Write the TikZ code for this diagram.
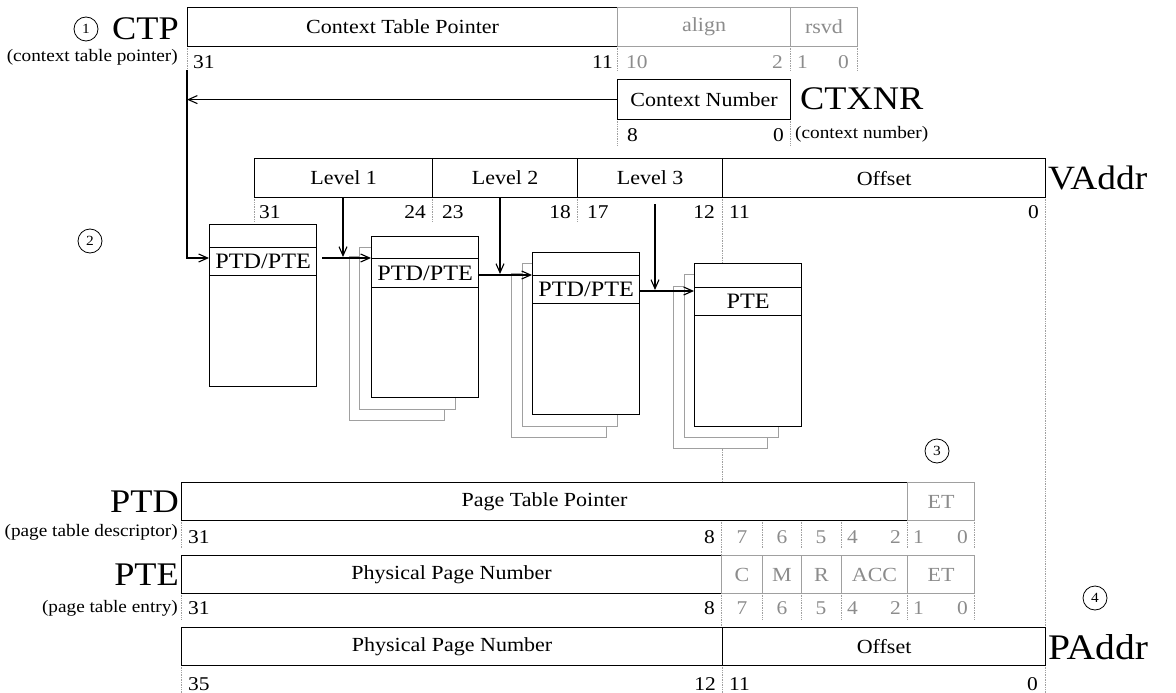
\documentclass[tikz,border=0pt]{standalone}
\usepackage{fontspec}
\setmainfont[FakeStretch=1.1]{Liberation Serif}
\usetikzlibrary{arrows.meta}
\definecolor{lg}{HTML}{A0A0A0}
\definecolor{tg}{HTML}{8C8C8C}
\tikzset{
 fld/.style={draw, line width=1.2pt, fill=white, anchor=north west, inner sep=0, font=\fontsize{20}{24}\selectfont},
 gfld/.style={fld, draw=lg, text=tg, line width=1pt},
 bit/.style={inner sep=0, font=\fontsize{19.5}{22}\selectfont},
 gbit/.style={bit, text=tg},
 big/.style={inner sep=0, font=\fontsize{33}{36}\selectfont},
 small/.style={inner sep=0, font=\fontsize{17.5}{20}\selectfont},
 num/.style={circle, draw, line width=0.8pt, minimum size=24pt, inner sep=0, font=\fontsize{14}{14}\selectfont},
 guide/.style={draw=lg, densely dotted, line width=0.7pt},
 conn/.style={line width=1.1pt, -{Straight Barb[length=9pt,width=8pt]}},
 tbl/.style={draw, line width=1.2pt, fill=white, anchor=north west, inner sep=0},
 shd/.style={draw=lg, line width=1pt, fill=white},
 ent/.style={tbl, font=\fontsize{22}{24}\selectfont},
}
\newcommand\fieldbox[7]{\node[#6, minimum width={#4-#2}, minimum height={#5-#3}] (#1) at (#2,#3) {#7};}
\begin{document}
\begin{tikzpicture}[x=1pt,y=-1pt]
\useasboundingbox (0,0) rectangle (1176,693);
% guide lines
\draw[guide] (187,46) -- (187,70);
\draw[guide] (617,46) -- (617,70);
\draw[guide] (790,46) -- (790,70);
\draw[guide] (857,46) -- (857,70);
\draw[guide] (617,119) -- (617,145);
\draw[guide] (790,119) -- (790,145);
\draw[guide] (254,197) -- (254,222);
\draw[guide] (432,197) -- (432,222);
\draw[guide] (577,197) -- (577,222);
\draw[guide] (722,197) -- (722,482);
\draw[guide] (1045,197) -- (1045,627);
\foreach \x in {181,762,801,841,907,974} {\draw[guide] (\x,520) -- (\x,548); \draw[guide] (\x,593) -- (\x,620);}
\draw[guide] (721,520) -- (721,555);
\draw[guide] (721,593) -- (721,627);
\draw[guide] (181,665) -- (181,693);
\draw[guide] (722,665) -- (722,693);
\draw[guide] (1045,665) -- (1045,693);

% CTP
\node[num] (n1) at (86,29) {1};
\node[big, anchor=east] (ctplbl) at (179,29) {CTP};
\node[small, anchor=east] (ctpsub) at (178,57) {(context table pointer)};
\fieldbox{ctp}{187}{7}{617}{46}{fld}{Context Table Pointer}
\fieldbox{align}{617}{7}{790}{46}{gfld}{align}
\fieldbox{rsvd}{790}{7}{857}{46}{gfld}{rsvd}
\node[bit, anchor=west] (b31a) at (193,62) {31};
\node[bit, anchor=east] (b11a) at (613,62) {11};
\node[gbit, anchor=west] (b10a) at (626,62) {10};
\node[gbit, anchor=east] (b2a) at (783,62) {2};
\node[gbit, anchor=west] (b1a) at (797,62) {1};
\node[gbit, anchor=east] (b0a) at (849,62) {0};

% CTXNR
\fieldbox{ctxnr}{617}{79}{790}{119}{fld}{Context Number}
\node[big, anchor=west] (ctxlbl) at (800,99) {CTXNR};
\node[small, anchor=west] (ctxsub) at (795,134) {(context number)};
\node[bit, anchor=west] (b8c) at (627,135) {8};
\node[bit, anchor=east] (b0c) at (784,135) {0};

% VAddr
\fieldbox{l1}{254}{158}{432}{197}{fld}{Level 1}
\fieldbox{l2}{432}{158}{577}{197}{fld}{Level 2}
\fieldbox{l3}{577}{158}{722}{197}{fld}{Level 3}
\fieldbox{voff}{722}{158}{1045}{197}{fld}{Offset}
\node[big, anchor=west, font=\fontsize{34}{36}\selectfont] (valbl) at (1048,178) {VAddr};
\node[bit, anchor=west] (v31) at (259,212) {31};
\node[bit, anchor=east] (v24) at (426,212) {24};
\node[bit, anchor=west] (v23) at (442,212) {23};
\node[bit, anchor=east] (v18) at (571,212) {18};
\node[bit, anchor=west] (v17) at (587,212) {17};
\node[bit, anchor=east] (v12) at (715,212) {12};
\node[bit, anchor=west] (v11) at (729,212) {11};
\node[bit, anchor=east] (v0) at (1039,212) {0};

\node[num] (n2) at (90,241) {2};

% shadows
\draw[shd] (349,256) rectangle (444,420);
\draw[shd] (359,247) rectangle (455,409);
\draw[shd] (511,273) rectangle (606,437);
\draw[shd] (522,263) rectangle (617,426);
\draw[shd] (673,286) rectangle (767,448);
\draw[shd] (684,274) rectangle (778,437);

% tables
\fieldbox{t1}{209}{224}{316}{386}{tbl}{}
\fieldbox{t1e}{209}{247}{316}{275}{ent}{PTD/PTE}
\fieldbox{t2}{371}{236}{478}{397}{tbl}{}
\fieldbox{t2e}{371}{258}{478}{287}{ent}{PTD/PTE}
\fieldbox{t3}{532}{252}{639}{414}{tbl}{}
\fieldbox{t3e}{532}{275}{639}{303}{ent}{PTD/PTE}
\fieldbox{t4}{694}{263}{801}{426}{tbl}{}
\fieldbox{t4e}{694}{287}{801}{315}{ent}{PTE}

% connectors
\coordinate (j0) at (187,70);
\draw[conn] (ctxnr.west) -- (ctxnr.west -| j0);
\draw[conn] (j0) |- (t2e.north -| t1.west);
\draw[conn] ([xshift=5pt]t1.east |- t2e.north) -- (t2e.north west);
\draw[conn] (t2.east |- t3e.north) -- (t3e.north west);
\coordinate (j3) at (639,291);
\draw[conn] (j3) -- (j3 -| t4.west);
\coordinate (a1) at (343,257);
\coordinate (a2) at (500,274);
\coordinate (a3) at (655,290);
\draw[conn] (a1 |- l1.south) -- (a1);
\draw[conn] (a2 |- l2.south) -- (a2);
\draw[conn] ([yshift=-6pt]a3 |- l3.south) -- (a3);

\node[num] (n3) at (937,451) {3};

% PTD
\node[big, anchor=east] (ptdlbl) at (179,502) {PTD};
\node[small, anchor=east] (ptdsub) at (178,532) {(page table descriptor)};
\fieldbox{ptd}{181}{482}{907}{520}{fld}{Page Table Pointer}
\fieldbox{ptdet}{907}{482}{974}{520}{gfld}{ET}
\node[bit, anchor=west] (d31) at (188,537) {31};
\node[bit, anchor=east] (d8) at (715,537) {8};
\node[gbit] (d7) at (742,537) {7};
\node[gbit] (d6) at (782,537) {6};
\node[gbit] (d5) at (821,537) {5};
\node[gbit, anchor=west] (d4) at (847,537) {4};
\node[gbit, anchor=east] (d2) at (901,537) {2};
\node[gbit, anchor=west] (d1) at (913,537) {1};
\node[gbit, anchor=east] (d0) at (968,537) {0};

% PTE
\node[big, anchor=east] (ptelbl) at (179,575) {PTE};
\node[small, anchor=east] (ptesub) at (178,608) {(page table entry)};
\fieldbox{pte}{181}{555}{721}{593}{fld}{Physical Page Number}
\fieldbox{pc}{721}{555}{762}{593}{gfld}{C}
\fieldbox{pm}{762}{555}{801}{593}{gfld}{M}
\fieldbox{pr}{801}{555}{841}{593}{gfld}{R}
\fieldbox{pacc}{841}{555}{907}{593}{gfld}{ACC}
\fieldbox{pet}{907}{555}{974}{593}{gfld}{ET}
\node[bit, anchor=west] (e31) at (188,608) {31};
\node[bit, anchor=east] (e8) at (715,608) {8};
\node[gbit] (e7) at (742,608) {7};
\node[gbit] (e6) at (782,608) {6};
\node[gbit] (e5) at (821,608) {5};
\node[gbit, anchor=west] (e4) at (847,608) {4};
\node[gbit, anchor=east] (e2) at (901,608) {2};
\node[gbit, anchor=west] (e1) at (913,608) {1};
\node[gbit, anchor=east] (e0) at (968,608) {0};

\node[num] (n4) at (1095,598) {4};

% PAddr
\fieldbox{pppn}{181}{627}{722}{665}{fld}{Physical Page Number}
\fieldbox{poff}{722}{627}{1045}{665}{fld}{Offset}
\node[big, anchor=west, font=\fontsize{36}{38}\selectfont] (palbl) at (1048,647) {PAddr};
\node[bit, anchor=west] (p35) at (188,684) {35};
\node[bit, anchor=east] (p12) at (716,684) {12};
\node[bit, anchor=west] (p11) at (729,684) {11};
\node[bit, anchor=east] (p0) at (1038,684) {0};
\end{tikzpicture}
\end{document}
